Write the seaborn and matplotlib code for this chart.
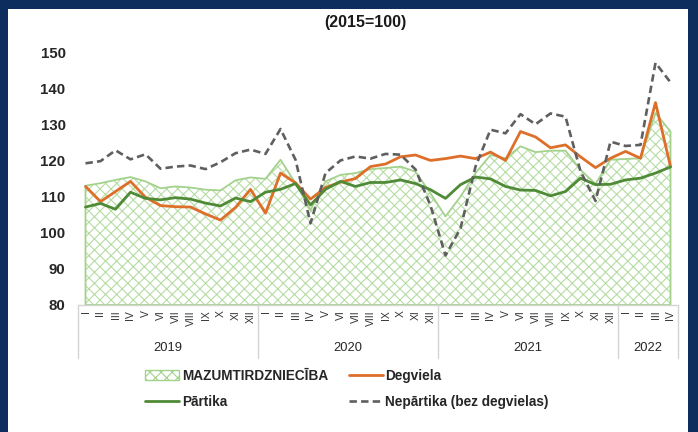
"""
plot.py - Retail trade indices by month (2015=100), 2019-2022
"""

import numpy as np
import pandas as pd
import matplotlib
matplotlib.use("Agg")
import matplotlib.pyplot as plt
from matplotlib.patches import Patch, Rectangle
from matplotlib.lines import Line2D
import seaborn as sns

# ── Data ───────────────────────────────────────────────────────────────────────
years = ["2019", "2020", "2021", "2022"]
months_per_year = [12, 12, 12, 4]
roman = ["I", "II", "III", "IV", "V", "VI", "VII", "VIII", "IX", "X", "XI", "XII"]
month_labels = roman * 3 + roman[:4]

retail = [113.0, 113.7, 114.6, 115.4, 114.2, 112.3, 112.8, 112.5, 111.9, 111.7, 114.5, 115.3,
          114.9, 120.2, 113.7, 106.3, 114.2, 116.0, 116.5, 117.6, 117.9, 118.3, 116.9, 110.9,
          104.5, 110.0, 116.5, 121.5, 120.6, 123.9, 122.3, 122.7, 122.7, 117.4, 113.5, 120.2,
          120.4, 120.6, 133.1, 128.0]
fuel = [112.8, 108.6, 111.4, 114.2, 109.8, 107.5, 107.2, 107.1, 105.2, 103.5, 107.0, 112.0,
        105.4, 116.5, 113.8, 109.3, 112.5, 114.0, 115.0, 118.3, 119.0, 121.0, 121.5, 120.0,
        120.5, 121.2, 120.5, 122.3, 120.0, 128.0, 126.5, 123.5, 124.3, 121.0, 118.0, 120.6,
        122.5, 120.6, 136.0, 118.3]
food = [107.1, 108.1, 106.5, 111.2, 109.5, 109.1, 109.7, 109.3, 108.2, 107.4, 109.6, 108.6,
        111.2, 112.0, 113.6, 107.7, 112.0, 114.2, 112.8, 113.9, 113.9, 114.6, 113.6, 111.9,
        109.5, 113.3, 115.4, 114.9, 112.8, 111.8, 111.7, 110.2, 111.4, 115.1, 113.3, 113.4,
        114.6, 115.1, 116.5, 118.2]
nonfood = [119.2, 119.8, 122.8, 120.3, 121.7, 117.7, 118.3, 118.6, 117.6, 119.5, 122.0, 123.0,
           121.8, 128.7, 120.2, 102.6, 116.5, 120.0, 121.1, 120.5, 121.8, 121.6, 117.5, 107.5,
           93.7, 101.2, 118.3, 128.5, 127.5, 132.8, 130.0, 133.0, 132.1, 117.0, 108.8, 125.2,
           124.0, 124.3, 147.0, 141.6]

series_names = ["MAZUMTIRDZNIECĪBA", "Degviela", "Pārtika", "Nepārtika (bez degvielas)"]

AREA_EDGE = "#a3d28c"
HATCH = "#b6dca3"
ORANGE = "#dd6f2a"
GREEN = "#4f8a37"
GREY = "#5f5f5f"
AXIS_GREY = "#d4d4d4"

df = pd.DataFrame({
    "month": np.arange(len(month_labels)),
    "retail": retail,
    "fuel": fuel,
    "food": food,
    "nonfood": nonfood,
})

# ── Style ──────────────────────────────────────────────────────────────────────
sns.set_theme(style="white")
plt.rcParams["font.family"] = ["Liberation Sans", "DejaVu Sans"]
plt.rcParams["hatch.linewidth"] = 0.8

W, H = 698, 432
fig = plt.figure(figsize=(W / 100, H / 100), dpi=100)
fig.patch.set_facecolor("#0c2d5e")
fig.add_artist(Rectangle((8 / W, 0), 680 / W, 423 / H, transform=fig.transFigure,
                         facecolor="white", edgecolor="none", zorder=0))

ax = fig.add_axes([78 / W, 127 / H, 600 / W, 253 / H])
ax.set_facecolor("white")

# area (hatch + outline drawn separately so the outline can be a bit stronger)
ax.fill_between(df["month"], 80, df["retail"], facecolor="white", edgecolor=HATCH,
                hatch="xxx", linewidth=0, zorder=1)
ax.fill_between(df["month"], 80, df["retail"], facecolor="none", edgecolor=AREA_EDGE,
                linewidth=1.3, zorder=2)

sns.lineplot(data=df, x="month", y="fuel", color=ORANGE, linewidth=2.0, ax=ax,
             legend=False, zorder=3)
sns.lineplot(data=df, x="month", y="food", color=GREEN, linewidth=2.0, ax=ax,
             legend=False, zorder=3)
sns.lineplot(data=df, x="month", y="nonfood", color=GREY, linewidth=1.9, ax=ax,
             legend=False, zorder=4, linestyle=(0, (2.8, 1.6)))
for ln in ax.lines:
    ln.set_solid_joinstyle("round")
    ln.set_dash_joinstyle("round")

# axes
ax.set_xlim(-0.5, len(month_labels) - 0.5)
ax.set_ylim(80, 150)
ax.set_yticks(range(80, 151, 10))
ax.set_yticklabels([str(v) for v in range(80, 151, 10)], fontsize=10.8, fontweight="bold")
ax.set_xticks(df["month"])
ax.set_xticklabels(month_labels, rotation=90, fontsize=7.5, color="#333333")
ax.tick_params(axis="both", length=0)
ax.tick_params(axis="y", pad=9)
ax.tick_params(axis="x", pad=4)
ax.set_xlabel("")
ax.set_ylabel("")
for spine in ax.spines.values():
    spine.set_visible(False)
ax.axhline(80, color=AXIS_GREY, linewidth=1.0, zorder=5, clip_on=False)

# year grouping under the month labels
trans = ax.get_xaxis_transform()
bounds = np.concatenate([[0], np.cumsum(months_per_year)]) - 0.5
for b in bounds:
    ax.plot([b, b], [0, -0.21], transform=trans, color=AXIS_GREY, linewidth=1.0,
            clip_on=False, zorder=5)
for yr, start, n in zip(years, bounds[:-1], months_per_year):
    ax.text(start + n / 2, -0.17, yr, transform=trans, ha="center", va="center",
            fontsize=9.3, color="#262626")

fig.text(0.523, 1 - 22 / H, "(2015=100)", ha="center", va="center",
         fontsize=11.5, fontweight="bold", color="#1a1a1a")

# legend: row 1 = area, fuel ; row 2 = food, non-food
handles = [
    Patch(facecolor="white", edgecolor=AREA_EDGE, hatch="xxx", linewidth=1.0),
    Line2D([], [], color=GREEN, linewidth=2.0),
    Line2D([], [], color=ORANGE, linewidth=2.0),
    Line2D([], [], color=GREY, linewidth=1.9, linestyle=(0, (2.8, 1.6))),
]
labels = [series_names[0], series_names[2], series_names[1], series_names[3]]
ax.legend(handles, labels, ncol=2, loc="center", bbox_to_anchor=(0.497, 0.100),
          bbox_transform=fig.transFigure, frameon=False,
          prop={"weight": "bold", "size": 9.8}, handlelength=2.5, handletextpad=0.2,
          columnspacing=1.5, labelspacing=0.85)

fig.savefig("out.png", dpi=100, facecolor=fig.get_facecolor())
plt.close()
